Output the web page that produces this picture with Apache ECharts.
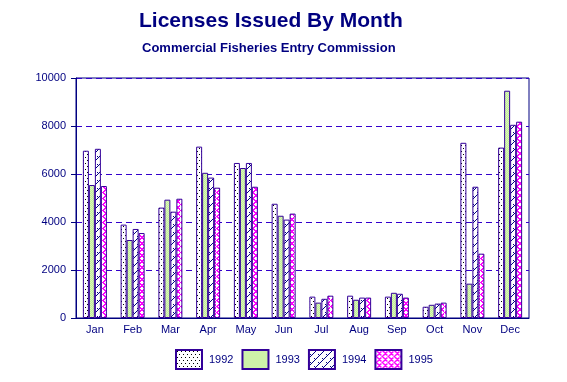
<!DOCTYPE html>
<html><head><meta charset="utf-8">
<script src="https://cdn.jsdelivr.net/npm/echarts@6/dist/echarts.min.js"></script>
<style>html,body{margin:0;padding:0;background:#fff}#c{width:567px;height:382px}</style>
</head><body><div id="c"></div>
<script>
var months = ['Jan','Feb','Mar','Apr','May','Jun','Jul','Aug','Sep','Oct','Nov','Dec'];
var years = ['1992','1993','1994','1995'];
var v1992 = [6970, 3890, 4600, 7140, 6460, 4760, 890, 930, 890, 470, 7300, 7100];
var v1993 = [5540, 3250, 4930, 6050, 6250, 4260, 640, 760, 1050, 550, 1430, 9470];
var v1994 = [7050, 3710, 4430, 5850, 6460, 4100, 800, 850, 1010, 600, 5470, 8050];
var v1995 = [5500, 3540, 4970, 5430, 5470, 4350, 930, 850, 850, 640, 2680, 8180];
var yTicks = [0, 2000, 4000, 6000, 8000, 10000];

function mk(w, h, draw) {
  var c = document.createElement('canvas'); c.width = w; c.height = h;
  var g = c.getContext('2d'); g.fillStyle = '#fff'; g.fillRect(0, 0, w, h); draw(g); return c;
}
var p1992 = mk(4, 6, function (g) { g.fillStyle = '#000'; g.fillRect(1, 1, 1, 1); g.fillRect(3, 4, 1, 1); });
var p1993 = mk(2, 2, function (g) { g.fillStyle = '#c2f096'; g.fillRect(0, 0, 2, 2); g.fillStyle = '#daf5bc'; g.fillRect(0, 0, 1, 1); g.fillRect(1, 1, 1, 1); });
var p1994 = mk(8, 8, function (g) {
  g.fillStyle = '#000080';
  for (var i = 0; i < 8; i++) { g.fillRect(i, 7 - i, 1, 1); }
  g.fillRect(2, 5, 1, 1); g.fillRect(1, 4, 1, 1); g.fillRect(6, 1, 1, 1); g.fillRect(5, 0, 1, 1);
});
var p1995 = mk(6, 6, function (g) {
  g.fillStyle = '#ff00ff';
  for (var i = 0; i < 6; i++) { g.fillRect(i, i, 2, 1); g.fillRect(i, (6 - i) % 6, 2, 1); }
});
var pats = [p1992, p1993, p1994, p1995];
var vals = [v1992, v1993, v1994, v1995];
var navy = '#000080', border = '#330099';

var series = years.map(function (y, i) {
  return {
    name: y, type: 'bar', data: vals[i], barWidth: 6, barGap: '0%',
    itemStyle: { color: { image: pats[i], repeat: 'repeat' }, borderColor: border, borderWidth: 1 },
    emphasis: { disabled: true }, animation: false
  };
});

var chart = echarts.init(document.getElementById('c'), null, { renderer: 'canvas' });
chart.setOption({
  animation: false,
  backgroundColor: '#fff',
  title: [
    { text: 'Licenses Issued By Month', left: 134, top: 6, textStyle: { fontFamily: 'Liberation Sans, Arial', fontSize: 21, fontWeight: 'bold', color: navy } },
    { text: 'Commercial Fisheries Entry Commission', left: 137, top: 37, textStyle: { fontFamily: 'Liberation Sans, Arial', fontSize: 13, fontWeight: 'bold', color: navy } }
  ],
  legend: {
    data: years, left: 170, top: 344, itemWidth: 26, itemHeight: 19, itemGap: 8, icon: 'rect',
    textStyle: { fontFamily: 'Liberation Sans, Arial', fontSize: 11, color: navy, padding: [0, 0, 0, 2] },
    selectedMode: false
  },
  grid: { left: 76, right: 38, top: 78, bottom: 64, show: true, borderColor: navy, borderWidth: 1, backgroundColor: 'transparent' },
  xAxis: {
    type: 'category', data: months,
    axisLine: { lineStyle: { color: navy, width: 1 } }, axisTick: { show: false },
    axisLabel: { color: navy, fontFamily: 'Liberation Sans, Arial', fontSize: 11, margin: 6 }
  },
  yAxis: {
    type: 'value', min: yTicks[0], max: yTicks[yTicks.length - 1], interval: 2000,
    axisLine: { show: true, lineStyle: { color: navy, width: 1 } },
    axisTick: { show: true, length: 5, lineStyle: { color: navy } },
    axisLabel: { color: navy, fontFamily: 'Liberation Sans, Arial', fontSize: 11, margin: 10, formatter: function (v) { return String(v); } },
    splitLine: { show: true, lineStyle: { color: '#3300cc', type: [6, 4], width: 1 } }
  },
  series: series
});
</script></body></html>
